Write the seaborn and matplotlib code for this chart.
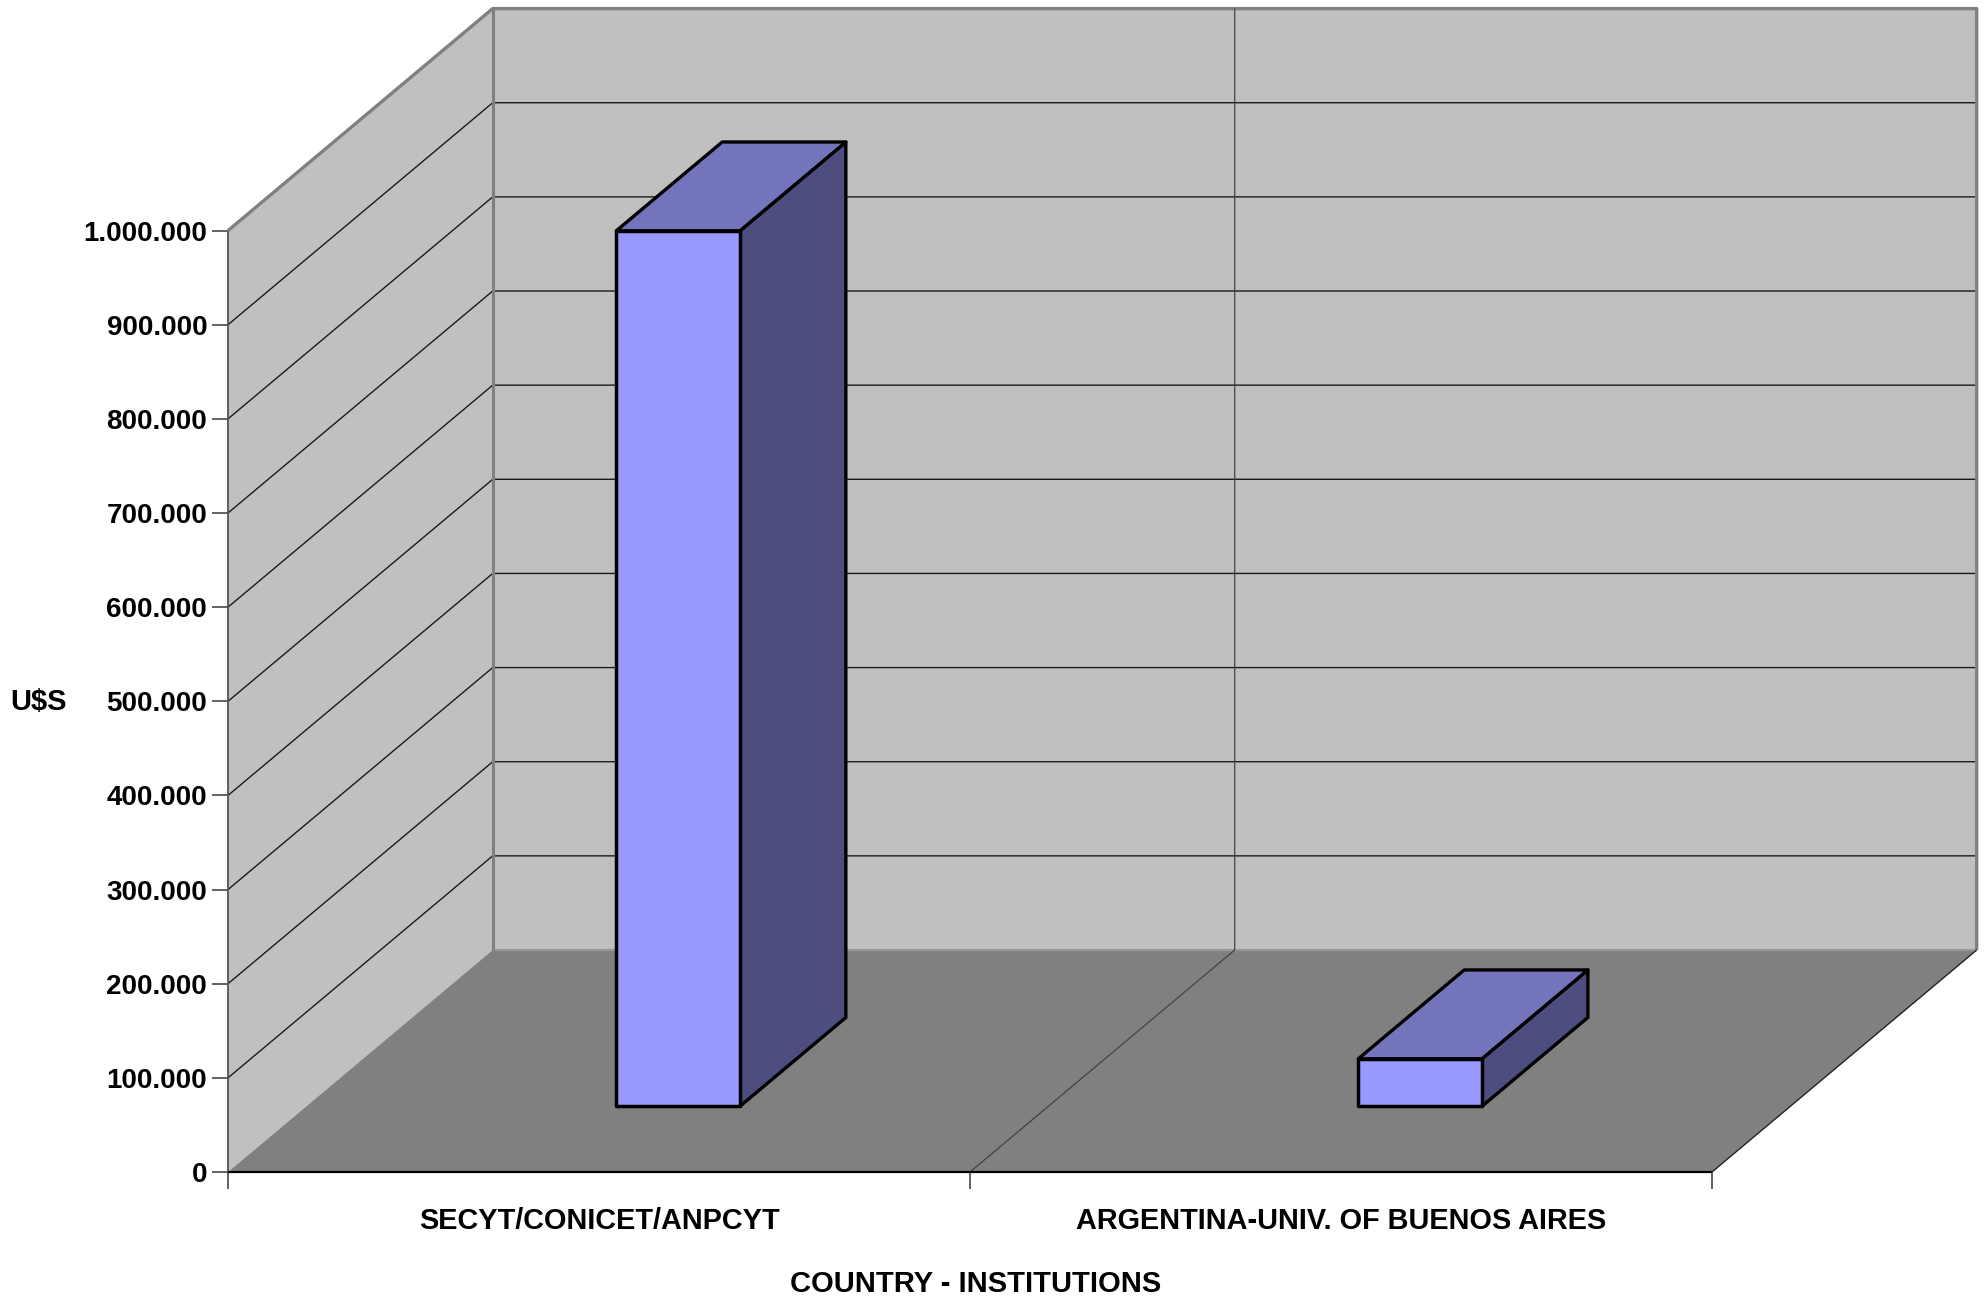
import matplotlib
matplotlib.use("Agg")
import matplotlib.pyplot as plt
from matplotlib.patches import Polygon
import seaborn as sns
import pandas as pd

categories = ["SECYT/CONICET/ANPCYT", "ARGENTINA-UNIV. OF BUENOS AIRES"]
values = [930000, 50500]
y_ticks = [0, 100000, 200000, 300000, 400000, 500000, 600000, 700000, 800000, 900000, 1000000]
y_labels = ["0", "100.000", "200.000", "300.000", "400.000", "500.000", "600.000", "700.000", "800.000", "900.000", "1.000.000"]
x_title = "COUNTRY - INSTITUTIONS"
y_title = "U$S"

WALL = "#C0C0C0"; FLOOR = "#808080"; EDGE = "#808080"
FRONT = "#9999FF"; TOP = "#7474BD"; SIDE = "#4D4D7F"

W, H = 1985, 1297
L, R, T, B = 228.0, 1712.0, 230.6, 1172.0

sns.set_theme(style="white")
plt.rcParams["font.family"] = ["Liberation Sans", "DejaVu Sans"]
plt.rcParams["font.weight"] = "bold"
FS_TICK = 20
FS_LAB = 20.8
FS_TITLE = 21

fig = plt.figure(figsize=(W / 100, H / 100), dpi=100, facecolor="white")
ax = fig.add_axes([L / W, 1 - B / H, (R - L) / W, (B - T) / H])
ax.patch.set_alpha(0)

df = pd.DataFrame({"inst": categories, "val": values})
sns.barplot(data=df, x="inst", y="val", color=FRONT, saturation=1, width=1 / 6,
            edgecolor="black", linewidth=2.5, ax=ax, zorder=5)

ax.set_xlim(-0.5, 1.5)
ax.set_ylim(0, 1000000)

# oblique depth expressed in data units
DX = 2 * 264.7 / (R - L)
DY = 1000000 * 222.0 / (B - T)
x0, x1 = -0.5, 1.5
ymax = 1000000

def poly(pts, fc, ec="none", lw=0, z=1):
    ax.add_patch(Polygon(pts, closed=True, facecolor=fc, edgecolor=ec, linewidth=lw,
                         zorder=z, clip_on=False, joinstyle="round"))

def seg(xs, ys, color, lw, z=2):
    ax.plot(xs, ys, color=color, lw=lw, zorder=z, clip_on=False, solid_capstyle="butt")

# walls and floor
poly([(x0 + DX, DY), (x1 + DX, DY), (x1 + DX, DY + ymax), (x0 + DX, DY + ymax)], WALL)
poly([(x0, 0), (x0 + DX, DY), (x0 + DX, DY + ymax), (x0, ymax)], WALL)
poly([(x0, 0), (x1, 0), (x1 + DX, DY), (x0 + DX, DY)], FLOOR)

# gridlines on side and back walls
for v in y_ticks[1:-1]:
    seg([x0, x0 + DX, x1 + DX], [v, v + DY, v + DY], "#1a1a1a", 1.0)

# wall outlines
seg([x0, x0 + DX, x1 + DX, x1 + DX], [ymax, DY + ymax, DY + ymax, DY], EDGE, 2.4, 3)
seg([x0 + DX, x0 + DX], [DY, DY + ymax], EDGE, 2.2, 3)
seg([x0 + DX, x1 + DX], [DY, DY], "#999999", 1.6, 2)
seg([x0, x0], [0, ymax], "#555555", 1.3, 3)
seg([0.5, 0.5 + DX, 0.5 + DX], [0, DY, DY + ymax], "#444444", 0.9, 3)
seg([x1, x1 + DX], [0, DY], "#222222", 1.0, 3)
seg([x0, x1], [0, 0], "black", 1.6, 3)

# bars: seaborn front faces pushed into the floor, with oblique faces added
START_X, START_Y, BAR_DEPTH = 0.299, 0.296, 0.40
for p, v in zip(ax.patches[:2], values):
    p.set_clip_on(False)
    p.set_joinstyle("round")
    p.set_x(p.get_x() + START_X * DX)
    p.set_y(START_Y * DY)
    xa, xb = p.get_x(), p.get_x() + p.get_width()
    ya, yb = p.get_y(), p.get_y() + p.get_height()
    ddx, ddy = BAR_DEPTH * DX, BAR_DEPTH * DY
    poly([(xb, ya), (xb + ddx, ya + ddy), (xb + ddx, yb + ddy), (xb, yb)], SIDE, "black", 2.4, 4)
    poly([(xa, yb), (xb, yb), (xb + ddx, yb + ddy), (xa + ddx, yb + ddy)], TOP, "black", 2.4, 4)

# axes furniture
sns.despine(ax=ax, left=True, bottom=True)
ax.set_yticks(y_ticks)
ax.set_yticklabels(y_labels, fontsize=FS_TICK, fontweight="bold", color="black")
ax.tick_params(axis="y", which="major", left=True, length=11.5, width=1.3, color="#555555", pad=3.5)
ax.set_xticks([0, 1])
ax.set_xticklabels(categories, fontsize=FS_LAB, fontweight="bold", color="black")
ax.set_xticks([-0.5, 0.5, 1.5], minor=True)
ax.tick_params(axis="x", which="major", bottom=False, length=0, pad=25)
ax.tick_params(axis="x", which="minor", bottom=True, length=12.5, width=1.3, color="#555555")
ax.set_xlabel(x_title, fontsize=FS_TITLE, fontweight="bold", color="black")
ax.xaxis.set_label_coords((976 - L) / (R - L), -(1284 - B) / (B - T))
ax.xaxis.label.set_verticalalignment("center")
ax.set_ylabel(y_title, fontsize=FS_TITLE, fontweight="bold", color="black", rotation=0,
              ha="center", va="center")
ax.yaxis.set_label_coords((39 - L) / (R - L), (B - 702) / (B - T))

fig.savefig("out.png", dpi=100, facecolor="white")
